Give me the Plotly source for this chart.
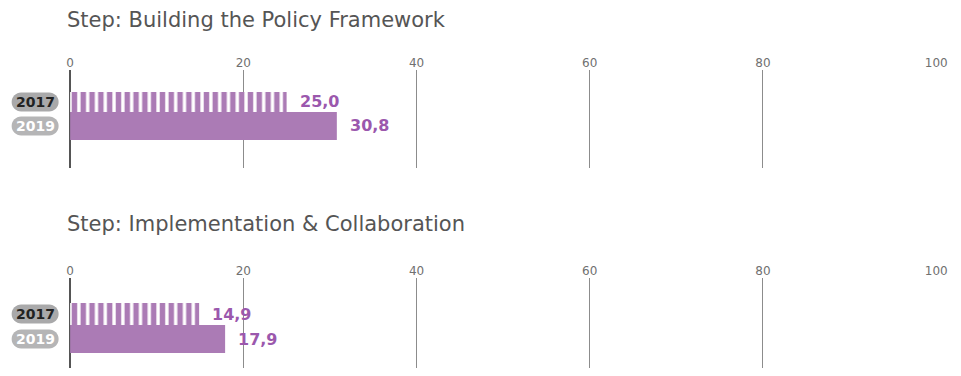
import plotly.graph_objects as go

# data
steps = ["Step: Building the Policy Framework", "Step: Implementation & Collaboration"]
years = ["2017", "2019"]
values_2017 = [25.0, 14.9]
values_2019 = [30.8, 17.9]
tick_vals = [0, 20, 40, 60, 80, 100]

BAR_COLOR = "#ab7bb5"
LABEL_COLOR = "#9b58ad"
FONT = "DejaVu Sans"

# page body has an 8px margin, so the figure is a bit smaller than the window
W, H = 953, 360

fig = go.Figure()

# y layout per panel
panels = [
    dict(domain=[0.5556, 0.8278], rng=[2.75, -1.333], w17=0.83, w19=1.17, title_y=0.9667),
    dict(domain=[0.0, 0.25], rng=[2.16, -1.44], w17=0.88, w19=1.12, title_y=0.40),
]

pill_x = 23.5 / W
# rounded pill, 47 x 19 px
pill_path = ("M -14,-9.5 L 14,-9.5 C 19.2,-9.5 23.5,-5.2 23.5,0 "
             "C 23.5,5.2 19.2,9.5 14,9.5 L -14,9.5 "
             "C -19.2,9.5 -23.5,5.2 -23.5,0 C -23.5,-5.2 -19.2,-9.5 -14,-9.5 Z")

for i, p in enumerate(panels):
    xa = "x" if i == 0 else "x2"
    ya = "y" if i == 0 else "y2"

    # 2017 - striped bar
    fig.add_trace(go.Bar(
        x=[values_2017[i]], y=[years[0]], orientation="h",
        width=[p["w17"]], xaxis=xa, yaxis=ya,
        marker=dict(color=BAR_COLOR, line=dict(width=0),
                    pattern=dict(shape="|", size=8.8, solidity=0.62,
                                 fgcolor=BAR_COLOR, bgcolor="white", fillmode="replace")),
        hoverinfo="x",
    ))
    # 2019 - solid bar
    fig.add_trace(go.Bar(
        x=[values_2019[i]], y=[years[1]], orientation="h",
        width=[p["w19"]], xaxis=xa, yaxis=ya,
        marker=dict(color=BAR_COLOR, line=dict(width=0)),
        hoverinfo="x",
    ))

    # value labels (category index 0 = 2017, 1 = 2019)
    for k, v in enumerate([values_2017[i], values_2019[i]]):
        fig.add_annotation(
            x=v, y=k, xref=xa, yref=ya, xanchor="left", xshift=11,
            text="<b>" + f"{v:.1f}".replace(".", ",") + "</b>",
            showarrow=False, font=dict(family=FONT, size=16, color=LABEL_COLOR),
        )

    # year pills
    for k, (fill, tc) in enumerate([("#a9a9aa", "#222222"), ("#b5b5b6", "#ffffff")]):
        fig.add_shape(
            type="path", xref="paper", yref=ya,
            xsizemode="pixel", ysizemode="pixel",
            xanchor=pill_x, yanchor=k,
            path=pill_path, fillcolor=fill, line=dict(width=0), layer="below",
        )
        fig.add_annotation(
            x=pill_x, y=k, xref="paper", yref=ya, xanchor="center", yanchor="middle",
            text="<b>" + years[k] + "</b>",
            showarrow=False, font=dict(family=FONT, size=14, color=tc),
        )

    # panel title
    fig.add_annotation(
        x=54 / W, y=p["title_y"], xref="paper", yref="paper",
        xanchor="left", yanchor="middle", text=steps[i], showarrow=False,
        font=dict(family=FONT, size=21, color="#555555"),
    )

axis_x = dict(
    domain=[59 / W, 939 / W], range=[0, 100], side="top",
    tickvals=tick_vals, showgrid=True, gridcolor="#8c8c8c", gridwidth=1,
    zeroline=True, zerolinecolor="#555555", zerolinewidth=2,
    showline=False, ticks="", tickfont=dict(family=FONT, size=12, color="#707070"),
    fixedrange=True,
)
axis_y = dict(type="category", categoryarray=years, categoryorder="array",
              showticklabels=False, showgrid=False, zeroline=False, fixedrange=True)

fig.update_layout(
    width=W, height=H,
    margin=dict(l=0, r=0, t=0, b=0),
    paper_bgcolor="white", plot_bgcolor="white",
    barmode="overlay", showlegend=False,
    xaxis=dict(axis_x, anchor="y"),
    xaxis2=dict(axis_x, anchor="y2"),
    yaxis=dict(axis_y, domain=panels[0]["domain"], range=panels[0]["rng"], anchor="x"),
    yaxis2=dict(axis_y, domain=panels[1]["domain"], range=panels[1]["rng"], anchor="x2"),
    font=dict(family=FONT),
)

fig.write_html("out.html")
